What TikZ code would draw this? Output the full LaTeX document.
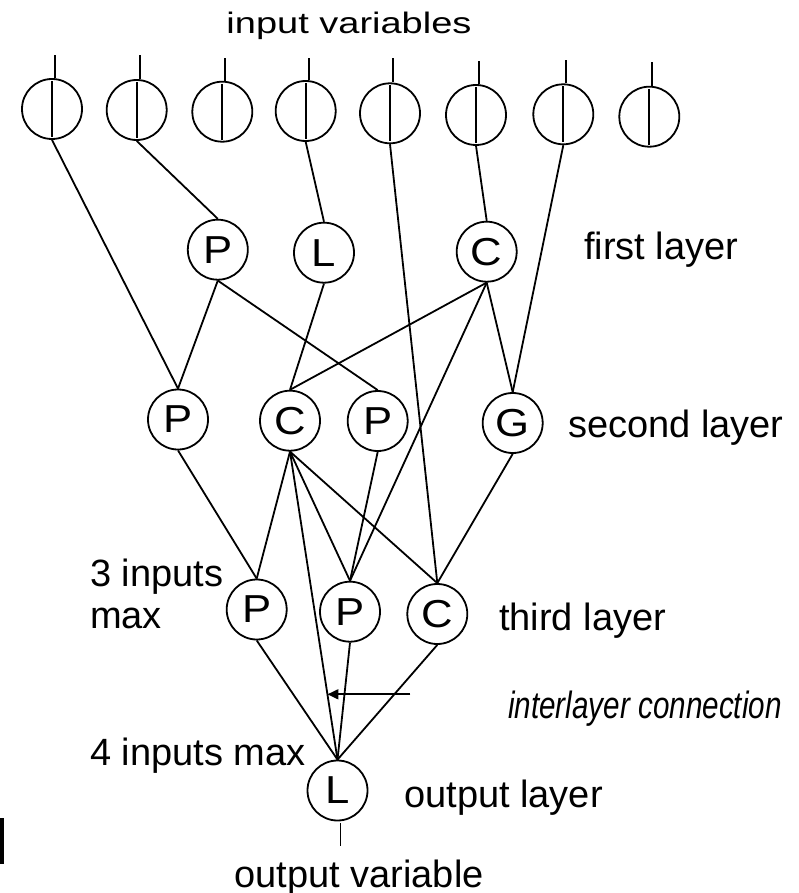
\documentclass[tikz,border=0pt]{standalone}
\usepackage{fontspec}
\setmainfont{Liberation Sans}
\usetikzlibrary{arrows.meta,calc}
% letters inside the units are set slightly wide
\newcommand\unitletter[1]{\scalebox{1.12}[1]{#1}}
\begin{document}
\begin{tikzpicture}[x=1pt,y=-1pt,
  every node/.style={font=\fontsize{38}{42}\selectfont},
  unit/.style={draw,circle,minimum size=60pt,inner sep=0pt,line width=1.8pt,
    font=\fontsize{39}{42}\selectfont},
  link/.style={line width=1.8pt},
  lbl/.style={inner sep=0pt,anchor=base west}]
\useasboundingbox (0,0) rectangle (798,893);

% input variables: circles with a vertical bar and a lead on top
\foreach \i/\x/\y/\t in {1/52/109/56, 2/136.7/110/56, 3/222.3/111.7/59,
    4/305.7/111/59, 5/390/113.3/59, 6/476/115/62, 7/563.3/114.3/61,
    8/649.3/116.7/63} {
  \node[unit] (in\i) at (\x,\y) {};
  \draw[link] ($(in\i.north)+(0,3)$) -- ($(in\i.south)+(0,-3)$);
  \draw[link] ($(in\i.north)+(3,0)$) -- ($(in\i.north)+(3,\t-\y+30)$);
}

% first layer
\node[unit] (p1) at (217.8,249.7) {\unitletter{P}};
\node[unit] (l1) at (324,252.7) {\unitletter{L}};
\node[unit] (c1) at (486.7,251.7) {\unitletter{C}};
% second layer
\node[unit] (p2a) at (178,419.5) {\unitletter{P}};
\node[unit] (c2) at (290,420.7) {\unitletter{C}};
\node[unit] (p2b) at (377.7,421) {\unitletter{P}};
\node[unit] (g2) at (512.7,423) {\unitletter{G}};
% third layer
\node[unit] (p3a) at (256.7,609.5) {\unitletter{P}};
\node[unit] (p3b) at (350,611.7) {\unitletter{P}};
\node[unit] (c3) at (437.3,614) {\unitletter{C}};
% output layer
\node[unit] (lo) at (337.5,790.5) {\unitletter{L}};

% connections
\foreach \a/\b in {in2/p1, in4/l1, in6/c1, in1/p2a, in7/g2, in5/c3,
    p1/p2a, p1/p2b, l1/c2, c1/c2, c1/g2, c1/p3b,
    p2a/p3a, c2/p3a, c2/p3b, c2/c3, c2/lo, p2b/p3b, g2/c3,
    p3a/lo, p3b/lo, c3/lo}
  \draw[link] (\a.south) -- (\b.north);

% output lead
\coordinate (outtop) at ($(lo.south)+(3,2)$);
\coordinate (outend) at ($(lo.south)+(3,25)$);
\draw[link] (outtop) -- (outend);

% pointer to the interlayer connection
\coordinate (tip) at ($(c2.south)!0.788!(lo.north)$);
\coordinate (tail) at ($(tip)+(83,0)$);
\draw[link,-{Triangle[length=11pt,width=10pt]}] (tail) -- (tip);

% labels
\node[lbl,anchor=base] (tin) at (349,34) {\scalebox{1}[0.78]{input variables}};
\node[lbl] (t1) at (584,259) {first layer};
\node[lbl] (t2) at (568,437) {second layer};
\node[lbl] (t3) at (499,630) {third layer};
\node[lbl] (tic) at (508,718) {\itshape\scalebox{0.78}[1]{interlayer connection}};
\node[lbl] (tol) at (404,807) {output layer};
\node[lbl,anchor=base] (tov) at (359,887) {output variable};
\node[lbl] (t3a) at (90,586) {3 inputs};
\node[lbl] (t3b) at (90,628) {max};
\node[lbl] (t4) at (90,765) {4 inputs max};

% edge mark
\fill (0,818) rectangle (4,864);
\end{tikzpicture}
\end{document}
